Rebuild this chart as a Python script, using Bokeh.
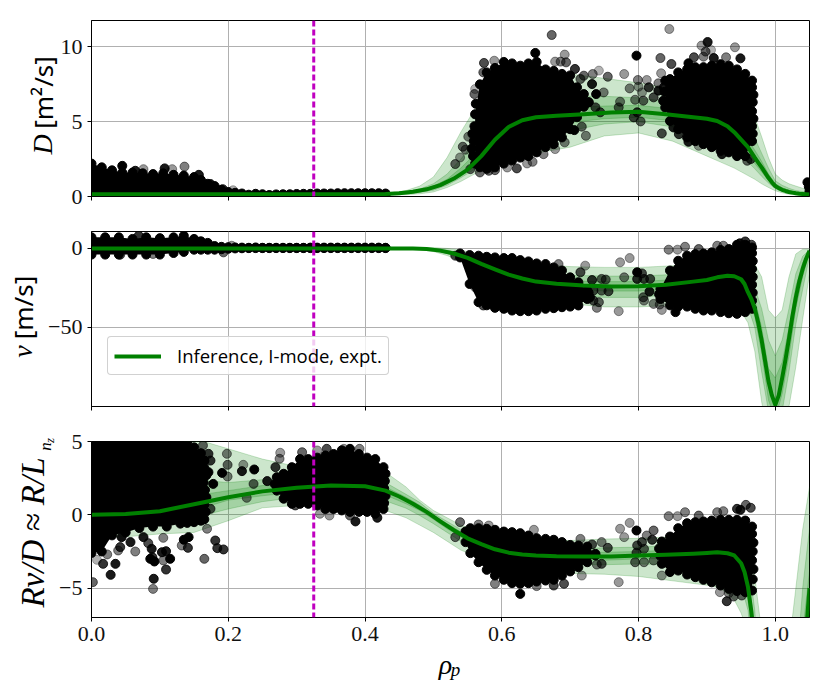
from bokeh.embed import file_html
from bokeh.layouts import column, row
from bokeh.models import (ColumnDataSource, FixedTicker, Label, Legend, LegendItem,
                          Range1d, Span)
from bokeh.plotting import figure
from bokeh.resources import INLINE

# shared radial grid of the inference bands
rho = [0, .05, .1, .15, .2, .25, .3, .35, .4, .43, .46, .48, .5, .52, .54, .56, .58, .6, .62,
       .65, .7, .75, .8, .85, .9, .92, .94, .95, .96, .97, .98, .99, 1.0, 1.01, 1.02, 1.03, 1.04, 1.05]
# medians are read more finely where they bend
med_x = [0, .05, .1, .15, .2, .25, .3, .35, .4, .43, .45, .47, .49, .51, .53, .55, .57, .59, .61,
         .63, .65, .68, .72, .76, .8, .84, .88, .9, .915, .93, .94, .95, .955, .96, .965, .97, .975, .98, .985,
         .99, .995, 1.0, 1.005, 1.01, 1.015, 1.02, 1.025, 1.03, 1.035, 1.04, 1.045, 1.05]
rho_sep = 0.325
rho_ticks = [0, .2, .4, .6, .8, 1.0]

# D profile: median and three nested bands
d_med = [.15, .15, .15, .15, .15, .15, .15, .15, .15, .17, .22, .32, .48, .76, 1.2, 1.8, 2.7, 3.8, 4.65,
         5.1, 5.3, 5.4, 5.5, 5.62, 5.67, 5.5, 5.3, 5.2, 5.05, 4.7, 4.3, 3.8, 3.55, 3.3, 2.95, 2.6, 2.27, 1.95, 1.6,
         1.25, .95, .7, .56, .45, .37, .3, .26, .22, .19, .17, .15, .13]
d_hi3 = [.2, .2, .2, .2, .2, .2, .2, .2, .2, .2, .4, .7, 1.3, 2.6, 4.3, 5.8, 6.8, 7.4, 7.7,
         8, 8.2, 7.9, 7.6, 7.2, 6.9, 6.7, 6.4, 6.2, 5.8, 5.3, 4, 2.6, 1.5, 1.1, .85, .7, .55, .45]
d_lo3 = [.1, .1, .1, .1, .1, .1, .1, .1, .1, .1, .12, .18, .3, .6, 1.0, 1.5, 2, 2.3, 2.6,
         2.9, 3.3, 4.05, 4.25, 3.7, 2.7, 2.3, 1.9, 1.65, 1.4, 1.15, .85, .6, .38, .25, .15, .1, .08, .05]
d_hi2 = [.17, .17, .17, .17, .17, .17, .17, .17, .17, .18, .3, .5, .85, 1.5, 2.5, 3.6, 4.7, 5.5, 6,
         6.4, 6.7, 6.7, 6.6, 6.3, 6, 5.8, 5.4, 5, 4.5, 3.9, 2.9, 1.9, 1.05, .75, .55, .4, .33, .25]
d_lo2 = [.12, .12, .12, .12, .12, .12, .12, .12, .12, .14, .18, .27, .42, .75, 1.25, 1.8, 2.6, 3.2, 3.6,
         4, 4.4, 4.85, 5, 4.65, 4.1, 3.7, 3.1, 2.7, 2.3, 1.85, 1.35, .9, .52, .33, .2, .15, .11, .08]
d_hi1 = [.16, .16, .16, .16, .16, .16, .16, .16, .16, .17, .27, .43, .7, 1.15, 1.9, 2.8, 3.9, 4.8, 5.35,
         5.75, 5.95, 6.05, 6.1, 5.85, 5.55, 5.3, 4.75, 4.3, 3.8, 3.1, 2.35, 1.5, .85, .58, .4, .3, .23, .18]
d_lo1 = [.14, .14, .14, .14, .14, .14, .14, .14, .14, .16, .22, .33, .5, .85, 1.35, 2, 2.95, 3.8, 4.4,
         4.75, 4.95, 5.2, 5.3, 5.05, 4.75, 4.4, 3.75, 3.3, 2.8, 2.2, 1.65, 1.05, .6, .38, .25, .18, .13, .1]

# v profile
v_med = [0, 0, 0, 0, 0, 0, 0, 0, 0, 0, 0, -.1, -.4, -1.4, -3.2, -6, -9.8, -13.3, -16.6,
         -19, -21, -22.4, -23.5, -24.1, -24, -23, -21, -20, -18.3, -17.3, -17.6, -19.5, -22.5, -27.7, -32, -38, -47, -58, -71,
         -84, -93, -99, -93, -82, -70, -57, -43, -31, -21, -13, -6.5, -1.5]
v_hi3 = [.5, .5, .5, .5, .5, .5, .5, .5, .5, .5, .5, .5, .5, 0, -1, -3, -5, -7, -8.5,
         -10, -11.5, -12, -12, -11, -9, -7, -5.5, -5, -7, -10, -18, -39, -44, -39, -18, -3.5, -.5, -.3]
v_lo3 = [-.5, -.5, -.5, -.5, -.5, -.5, -.5, -.5, -.5, -.5, -.6, -.7, -2, -4.5, -8, -14, -20, -25, -29,
         -32, -35, -37, -37, -36, -35, -34, -36, -40, -47, -65, -97, -120, -130, -125, -100, -75, -45, -16]
v_hi2 = [.2, .2, .2, .2, .2, .2, .2, .2, .2, .2, .2, .2, 0, -1, -2.8, -5.5, -8, -11, -13,
         -15.5, -17, -17.5, -17.5, -16.5, -14, -12.5, -11.5, -12, -17, -25, -38, -58, -68, -58, -38, -16, -5, -.8]
v_lo2 = [-.2, -.2, -.2, -.2, -.2, -.2, -.2, -.2, -.2, -.2, -.25, -.3, -1.4, -3.3, -6, -10.5, -15, -19.5, -23,
         -26.5, -29, -31, -31, -29, -27, -25.5, -26, -29, -37, -50, -78, -103, -115, -103, -78, -48, -26, -5]
v_hi1 = [.1, .1, .1, .1, .1, .1, .1, .1, .1, .1, .1, .1, -.4, -1.6, -3.6, -6.8, -10, -13, -15.5,
         -18.5, -20.5, -21, -21, -19.8, -17.3, -15.2, -14.8, -16, -23, -32, -50, -76, -82, -72, -50, -24, -9, -1]
v_lo1 = [-.1, -.1, -.1, -.1, -.1, -.1, -.1, -.1, -.1, -.1, -.1, -.1, -1.1, -2.8, -5.3, -9.2, -13, -17, -20.5,
         -23.5, -25.5, -27, -27, -25.2, -22.7, -20.5, -20.5, -22.5, -32, -43, -66, -96, -108, -92, -68, -38, -18, -2.5]

# Rv/D profile
r_med = [0, .05, .25, .72, 1.2, 1.6, 1.85, 2, 1.95, 1.65, 1.25, .75, .2, -.45, -1.05, -1.6, -2, -2.35, -2.58,
         -2.7, -2.77, -2.82, -2.84, -2.84, -2.77, -2.72, -2.65, -2.6, -2.55, -2.62, -2.77, -3.3, -3.9, -4.9, -6.6, -9, -14, -20, -30,
         -40, -50, -60, -55, -50, -40, -30, -25, -20, -16, -12, -8, -5]
r_hi3 = [2, 3, 4.5, 5.2, 4.5, 3.8, 3.3, 3.1, 3.2, 2.9, 1.9, 1.0, .3, -.2, -.7, -1, -1.3, -1.5, -1.6,
         -1.7, -1.75, -1.65, -1.6, -1.5, -1.1, -.7, -.6, -.7, -1.5, -4.2, -8, -25, -40, -30, -9, -5, -1, 1.9]
r_lo3 = [-1.5, -1.5, -1.3, -1.2, -.4, .48, .64, .65, .5, .3, -.2, -.7, -1.2, -1.8, -2.4, -2.8, -3.2, -3.5, -3.7,
         -3.9, -4, -4.05, -4.2, -4.5, -4.8, -5, -5.8, -6.7, -8, -14, -30, -50, -70, -65, -50, -35, -25, -15]
r_hi2 = [1, 1.5, 2, 2.4, 2.2, 2.4, 2.4, 2.5, 2.5, 2.2, 1.4, .85, .1, -.45, -1, -1.4, -1.75, -2, -2.15,
         -2.25, -2.3, -2.25, -2.2, -2.1, -1.85, -1.6, -1.6, -1.9, -3, -6.5, -13, -30, -50, -40, -20, -11, -5, -.9]
r_lo2 = [-1, -.9, -.5, -.2, .4, .9, 1.2, 1.4, 1.25, .95, .45, -.05, -.6, -1.2, -1.8, -2.2, -2.6, -2.95, -3.15,
         -3.3, -3.4, -3.4, -3.35, -3.4, -3.5, -3.6, -4, -4.8, -6.5, -11, -25, -45, -65, -58, -40, -28, -18, -9]
r_hi1 = [.5, .6, .9, 1.3, 1.65, 2, 2.15, 2.25, 2.2, 1.9, 1.2, .65, 0, -.6, -1.15, -1.6, -2, -2.25, -2.4,
         -2.5, -2.55, -2.55, -2.5, -2.4, -2.25, -2.15, -2.2, -2.6, -4, -7.8, -16, -35, -55, -45, -25, -15, -8, -3.8]
r_lo1 = [-.5, -.4, -.1, .3, 1, 1.3, 1.55, 1.7, 1.65, 1.35, .75, .3, -.3, -.95, -1.5, -2, -2.4, -2.7, -2.9,
         -3, -3.1, -3.1, -3, -3, -3, -3, -3.3, -4, -5.8, -10, -22, -42, -62, -55, -35, -24, -15, -7]

# dense sample clouds, given as the range the samples cover at each rho
d_cloud1_x = [0, .015, .03, .045, .06, .075, .09, .105, .12, .135, .15, .16, .17, .18, .19, .2, .21, .22, .23, .24, .25, .26, .27, .28,
              .29, .3, .31, .32, .33, .34, .35, .36, .37, .38, .39, .4, .41, .42, .43]
d_cloud1_hi = [2.2, 1.95, 1.75, 1.6, 1.6, 1.55, 1.5, 1.55, 1.45, 1.4, 1.3, 1.1, .85, .7, .45, .3, .25, .2, .12, .18, .15, .1, .14, .15,
               .15, .17, .18, .18, .2, .2, .2, .22, .22, .22, .22, .22, .22, .22, .2]
d_cloud1_lo = [.05, .05, .05, .05, .05, .05, .05, .05, .05, .05, .05, .05, .05, .05, .05, .05, .05, .05, .05, .05, .05, .05, .05, .05,
               .05, .05, .05, .05, .05, .05, .05, .05, .05, .05, .05, .05, .05, .05, .05]
d_cloud2_x = [.561, .568, .578, .59, .603, .615, .627, .639, .651, .664, .676, .688, .7, .71, .72, .727]
d_cloud2_hi = [5.5, 7.5, 8.3, 8.6, 9.0, 8.9, 8.75, 8.9, 9.0, 8.5, 8.4, 8.2, 8.1, 7.3, 6.85, 6.3]
d_cloud2_lo = [2.2, 1.95, 1.85, 1.95, 2.2, 2.4, 2.6, 2.7, 2.95, 3.3, 3.5, 3.95, 4.5, 5.3, 6.0, 6.3]
d_cloud3_x = [.839, .846, .858, .871, .883, .895, .907, .92, .932, .944, .956, .966]
d_cloud3_hi = [7.75, 7.85, 8.3, 8.5, 8.65, 8.65, 8.75, 8.85, 8.75, 8.5, 8.2, 7.75]
d_cloud3_lo = [5.95, 5.05, 4.5, 3.95, 3.7, 3.5, 3.3, 3.05, 2.95, 2.7, 2.7, 3.7]
d_edge_x = [.558, .556, .559, .557, .56, .562, .836, .838, .967, .966, .968, .966, .967, .968, .966]
d_edge_y = [2.7, 3.2, 3.7, 4.2, 4.7, 6.2, 6.4, 7.0, 4.2, 4.7, 5.2, 5.7, 6.3, 6.8, 7.3]

v_cloud1_x = [0, .02, .04, .06, .08, .1, .12, .135, .15, .16, .17, .18, .19, .2, .21, .22, .23, .24, .25, .26, .27, .28,
              .29, .3, .31, .32, .33, .34, .35, .36, .37, .38, .39, .4, .41, .42, .43]
v_cloud1_hi = [7, 7, 7, 6, 7, 6.5, 7, 8, 6, 4.5, 3.5, 1.5, 1, .8, .6, .5, .4, .6, .4, .4, .4, .4,
               .4, .4, .4, .5, .5, .5, .5, .5, .5, .5, .5, .5, .5, .5, .4]
v_cloud1_lo = [-3.9, -3.9, -3.9, -3.9, -3.9, -3.9, -2.9, -2.2, -.8, -.8, -.8, -.8, -.5, -.2, 0, .1, .2, .2, .2, .2, .2, .2,
               .2, .2, .2, .2, .2, .2, .2, .2, .2, .2, .2, .2, .2, .2, .2]
v_cloud2_x = [.539, .553, .566, .578, .59, .603, .615, .627, .639, .651, .664, .676, .688, .7, .712, .725]
v_cloud2_hi = [-3.2, -4.2, -4.6, -5.3, -5.7, -6.1, -6.1, -7.4, -8.2, -9.5, -9.9, -12, -14, -18.3, -21.4, -26.7]
v_cloud2_lo = [-5.7, -22.5, -34, -36, -37.6, -38.2, -39.3, -39.7, -39.7, -39.3, -38.2, -37.8, -37.2, -36.8, -36.1, -32]
v_cloud3_x = [.832, .846, .858, .871, .883, .895, .907, .92, .932, .944, .956, .966]
v_cloud3_hi = [-25.6, -14, -7.8, -4.6, -3.6, -3.2, -2.5, -1, -.4, 2.3, 2.3, .6]
v_cloud3_lo = [-32, -36, -36.8, -36.8, -38.2, -39.3, -39.3, -40.3, -41, -41.4, -40.3, -38.2]
v_edge_x = [.966, .967, .966, .967, .966, .967, .966, .83, .727, .729]
v_edge_y = [-33, -28, -23, -18, -13, -8, -3, -29, -28, -31]

r_cloud1_x = [0, .015, .03, .05, .07, .09, .11, .13, .14, .15, .16, .165]
r_cloud1_hi = [5.5, 5.5, 5.5, 5.5, 5.5, 5.5, 5.5, 5.5, 5.0, 4.6, 4.2, 3.7]
r_cloud1_lo = [-2.6, -2.5, -1.4, -1.2, -.9, -.8, -.8, -.6, -.55, -.5, -.4, -.3]
r_cloud2_x = [.271, .281, .293, .305, .317, .33, .342, .354, .366, .378, .391, .403, .415, .427]
r_cloud2_hi = [2.57, 2.8, 3.25, 3.8, 3.8, 3.9, 4.05, 4.15, 4.4, 4.5, 4.15, 3.9, 3.8, 3.25]
r_cloud2_lo = [1.65, 1.1, .75, .75, .75, .64, .4, .4, .3, .2, .2, .2, .07, .4]
r_cloud3_x = [.547, .554, .566, .578, .59, .603, .615, .627, .639, .651, .664, .676, .688, .7, .712, .725, .737]
r_cloud3_hi = [-1.14, -.91, -.91, -.95, -1.02, -1.14, -1.18, -1.25, -1.41, -1.59, -1.64, -1.7, -1.86, -2.05, -2.09, -2.16, -2.66]
r_cloud3_lo = [-1.86, -2.61, -3.23, -3.75, -4.14, -4.43, -4.66, -4.7, -4.66, -4.55, -4.48, -4.43, -4.14, -3.86, -3.57, -3.23, -2.77]
r_cloud4_x = [.834, .846, .858, .871, .883, .895, .907, .92, .932, .944, .956, .966]
r_cloud4_hi = [-1.82, -1.48, -.91, -.57, -.5, -.45, -.39, -.34, -.34, -.34, -.39, -.8]
r_cloud4_lo = [-3.34, -3.9, -3.8, -4.07, -4.25, -4.43, -4.6, -4.82, -5.05, -5.2, -5.27, -5.16]
r_edge_x = [.165, .168, .164, .166, .168, .165, .167, .268, .428, .43, .428, .429, .43, .83, .832, .966, .968, .967, .966, .968, .967]
r_edge_y = [3.2, 2.7, 2.2, 1.7, 1.2, .7, .2, 2.1, .8, 1.3, 1.8, 2.3, 2.8, -2.3, -2.8, -1.3, -1.9, -2.5, -3.1, -3.7, -4.4]

# single samples that stand out of the clouds
d_pts_x = [.673, .845, .901, .892, .898, .906, .941, .797, .832, .848, .692, .678, .686, .694, .707, .742, .733, .72, .755, .779,
           .833, .799, .812, .829, .787, .8, .815, .715, .732, .749, .738, .805, .773, .795, .807, .822, .829, .837, .725, .737,
           .771, .744, .798, .793, .803, .706, .717, .723, .834, .551, .543, .547, .539, .532, .554, .568, .637, .645, .622, .581,
           .59, .608, .678, .661, .692, .888, .907, .922, .959, .964, .873, .859, .851, .561, .56, .573, .574, .589, .649, .873,
           .881, .91, .928, .949, .895, .045, .064, .107, .136, .157, .174, .118, .076, .207, .192, 1.047, 1.049, 1.05]
d_pts_y = [10.8, 11.2, 10.33, 10.09, 9.69, 9.8, 9.98, 9.42, 9.26, 8.86, 9.49, 9.02, 9.02, 8.97, 8.53, 8.42, 8.19, 8.08, 8.01, 8.19,
           8.24, 7.79, 7.79, 7.57, 7.23, 7.34, 7.3, 7.86, 7.52, 6.96, 6.85, 6.96, 6.34, 6.47, 6.41, 6.63, 7.08, 7.3, 6.29, 5.96,
           5.96, 5.63, 5.63, 5.29, 5.02, 4.44, 4.67, 4.06, 4.22, 4.0, 3.33, 3.13, 2.61, 2.17, 1.83, 1.61, 2.21, 2.32, 1.88, 1.72,
           1.76, 1.94, 3.17, 2.83, 3.62, 3.39, 3.35, 2.83, 2.39, 2.5, 3.66, 4.17, 4.62, 7.19, 6.85, 8.3, 8.93, 9.08, 9.6, 8.91,
           9.31, 9.26, 9.31, 9.24, 9.35, 2.05, 1.72, 1.88, 2.0, 1.45, .83, 1.83, 1.83, .42, .49, .95, .65, .35]
d_pts_a = [.6, .4, .9, .4, .6, .3, .4, 1, .6, .7, .4, .4, .5, .6, .8, .3, .5, .6, .6, .4,
           .4, .5, .4, .5, .5, .4, .8, .6, .9, .5, 1, .4, .5, .5, .6, .7, .9, .9, .8, .7,
           .6, .7, .8, .7, .6, 1, .6, .5, .7, .5, .6, .5, .4, .6, .6, .6, .4, .5, .7, .6,
           .6, .4, .4, .5, .5, .4, .4, .9, .6, .7, .9, .8, .9, .3, .6, .6, .7, .4, 1, 1,
           .7, .9, .5, .9, .5, 1, .9, .9, .5, .9, .9, .4, .4, .3, .8, 1, 1, 1]

v_pts_x = [.722, .773, .787, .798, .805, .844, .857, .868, .888, .915, .924, .948, .956, .965, .732, .746, .752, .779, .798, .808,
           .817, .756, .746, .734, .816, .807, .808, .822, .831, .834, .854, .771, .739, .734, .742, .715, .683, .561, .573, .532,
           .042, .09, .069, .193, .205]
v_pts_y = [-10.9, -8.8, -6.1, -15.1, -15.8, -.8, -.8, 1.05, -.4, 1.7, 1.7, 3.2, 4.4, 2.3, -20, -19.3, -19.7, -18.3, -19.3, -19.3,
           -19.3, -27.1, -26.7, -26.7, -27.3, -30.9, -33, -35.1, -35.5, -38.9, -40.3, -39.7, -37.6, -33, -34, -15.1, -9.9, -24.6, -36.1, -4.6,
           -4, -3.5, 8, -2.5, 1.7]
v_pts_a = [.4, .4, .4, 1, .7, .5, .4, .5, .6, .5, .5, .9, .8, .7, .8, .6, .6, .5, .8, .7,
           .7, .7, .6, .7, .9, .6, .5, .5, .5, .4, 1, .4, .5, .7, .6, .7, .5, .4, .7, .7,
           .6, .5, .8, .6, .4]

r_pts_x = [.002, .008, .017, .023, .028, .035, .039, .044, .042, .057, .064, .076, .083, .088, .089, .086, .092, .091, .09, .103,
           .109, .105, .115, .109, .105, .132, .141, .135, .142, .165, .181, .184, .193, .174, .169, .198, .199, .199, .191, .22,
           .222, .238, .257, .237, .227, .276, .275, .269, .178, .171, .174, .171, .163, .165, .308, .344, .369, .392, .33, .386,
           .418, .348, .334, .298, .378, .539, .532, .566, .581, .647, .627, .691, .676, .59, .651, .717, .715, .732, .746, .755,
           .779, .773, .787, .797, .771, .746, .739, .795, .808, .822, .834, .798, .808, .797, .805, .82, .812, .822, .844, .857,
           .868, .888, .915, .924, .944, .957, .964, .949, .929, .919, .932, .939, .951]
r_pts_y = [-4.59, -3.07, -3.34, -2.7, -4.09, -3.34, -2.43, -1.52, -2.2, -1.86, -2.5, -1.52, -1.93, -2.32, -2.89, -3, -3.18, -4.36, -5.05, -2.55,
           -2.48, -3.11, -3, -3.73, -1.57, -2.09, -2.25, -1.7, -1.52, -3, -1.75, -2.27, -2.36, .41, -.95, 4.16, 3.41, 2.61, 2.86, 2.98,
           3.41, 3.09, 2.3, 2.11, 1.16, 4.23, 3.82, 3.25, 2.11, 2.91, 3.7, 4.16, 4.73, 3.66, 4.27, 4.5, 4.5, 4.5, 4.39, -.45,
           -.2, -.05, .07, .64, -.05, -.5, -1.52, -.66, -.73, -1.02, -5.39, -4.7, -4.82, -4.7, -4.86, -4.14, -1.64, -2.02, -1.86, -2.25,
           -1.52, -.95, -.55, -1.07, -4.59, -3.34, -3.39, -3.23, -3.23, -3.11, -4.14, -2.09, -2.32, -2.59, -1.86, -1.7, -1.41, -1.07, -.09, -.09,
           .18, -.05, .18, .25, .41, .68, .48, .34, -5.89, -5.27, -5.34, -5.57, -5.5]
r_pts_a = [.6, .3, .8, .5, .9, .9, .5, .95, .8, .9, .5, .9, .7, .9, .8, 1, 1, .9, .5, .9,
           .9, .5, 1, .8, .5, .5, .8, 1, 1, .6, .8, .8, .8, .7, .5, .5, .6, .5, 1, .9,
           .4, 1, .9, .6, .5, .4, .5, .8, 1, 1, .8, .8, .6, .7, .6, .7, .4, .5, .4, .9,
           .9, .4, .4, .7, .6, .6, .6, .5, .4, .4, 1, .7, .7, .5, .5, .4, .5, .7, .5, .7,
           .4, .4, .4, 1, .4, .7, .5, .6, .5, .5, .4, .7, .6, .7, .7, .8, .5, .6, .5, .4,
           .5, .6, .5, .5, .8, .6, .7, .9, .8, .4, .5, .6, .6]

green = "#008000"
magenta = "#c000c0"
serif = "Liberation Serif"
page_w, page_h = 823, 681


def make_panel(height, top, bottom, y_range, y_ticks, y_names, bands, med, clouds, edge, pts, show_x=False):
    p = figure(width=page_w, height=height, x_range=Range1d(0, 1.05), y_range=Range1d(*y_range),
               output_backend="svg", toolbar_location=None, tools="",
               min_border_left=91, min_border_right=14, min_border_top=top, min_border_bottom=bottom)
    p.outline_line_color = "black"
    p.outline_line_alpha = 1
    p.grid.grid_line_color = "#b0b0b0"
    p.grid.grid_line_width = 1

    p.xaxis.ticker = FixedTicker(ticks=rho_ticks)
    p.yaxis.ticker = FixedTicker(ticks=y_ticks)
    p.yaxis.major_label_overrides = y_names
    if show_x:
        p.xaxis.major_label_overrides = {0: "0.0", .2: "0.2", .4: "0.4", .6: "0.6", .8: "0.8", 1.0: "1.0"}
    else:
        p.xaxis.major_label_overrides = {t: "" for t in rho_ticks}
    for ax in (p.xaxis, p.yaxis):
        ax.major_tick_in = 0
        ax.major_tick_out = 4
        ax.minor_tick_line_color = None
        ax.axis_line_color = "black"
        ax.major_label_text_font = serif
        ax.major_label_text_font_size = "22px"
        ax.major_label_text_color = "#111111"
        ax.major_label_standoff = 5

    for lo, hi in bands:
        p.varea(rho, lo, hi, fill_color=green, fill_alpha=0.2)
        p.line(rho, lo, color=green, line_alpha=0.2, line_width=1)
        p.line(rho, hi, color=green, line_alpha=0.2, line_width=1)

    for cx, chi, clo in clouds:
        p.varea(cx, clo, chi, fill_color="black")
        p.scatter(cx, chi, size=9, color="black")
        p.scatter(cx, clo, size=9, color="black")
    p.scatter(edge[0], edge[1], size=9, color="black")
    src = ColumnDataSource(dict(x=pts[0], y=pts[1], a=pts[2]))
    p.scatter("x", "y", source=src, size=9, color="black", alpha="a")

    med_line = p.line(med_x, med, color=green, line_width=4, line_join="round")
    p.add_layout(Span(location=rho_sep, dimension="height", line_color=magenta, line_width=3, line_dash="6 3"))
    return p, med_line


p1, _ = make_panel(213, 20, 17, (0, 11.77), [0, 5, 10], {0: "0", 5: "5", 10: "10"},
                   [(d_lo3, d_hi3), (d_lo2, d_hi2), (d_lo1, d_hi1)], d_med,
                   [(d_cloud1_x, d_cloud1_hi, d_cloud1_lo), (d_cloud2_x, d_cloud2_hi, d_cloud2_lo),
                    (d_cloud3_x, d_cloud3_hi, d_cloud3_lo)],
                   (d_edge_x, d_edge_y), (d_pts_x, d_pts_y, d_pts_a))

p2, med2 = make_panel(210, 18, 17, (-100, 10.7), [-50, 0], {-50: "−50", 0: "0"},
                      [(v_lo3, v_hi3), (v_lo2, v_hi2), (v_lo1, v_hi1)], v_med,
                      [(v_cloud1_x, v_cloud1_hi, v_cloud1_lo), (v_cloud2_x, v_cloud2_hi, v_cloud2_lo),
                       (v_cloud3_x, v_cloud3_hi, v_cloud3_lo)],
                      (v_edge_x, v_edge_y), (v_pts_x, v_pts_y, v_pts_a))

legend = Legend(items=[LegendItem(label="Inference, I-mode, expt.", renderers=[med2])],
                location=(16, 31), orientation="vertical", level="overlay",
                label_text_font="Open Sans", label_text_font_size="18.5px", label_text_color="black", label_standoff=16,
                glyph_width=47, glyph_height=20, padding=6, margin=0, spacing=0, border_radius=4,
                border_line_color="#cccccc", border_line_alpha=0.9, background_fill_alpha=0.8)
p2.add_layout(legend)

p3, _ = make_panel(258, 18, 64, (-7, 5), [-5, 0, 5], {-5: "−5", 0: "0", 5: "5"},
                   [(r_lo3, r_hi3), (r_lo2, r_hi2), (r_lo1, r_hi1)], r_med,
                   [(r_cloud1_x, r_cloud1_hi, r_cloud1_lo), (r_cloud2_x, r_cloud2_hi, r_cloud2_lo),
                    (r_cloud3_x, r_cloud3_hi, r_cloud3_lo), (r_cloud4_x, r_cloud4_hi, r_cloud4_lo)],
                   (r_edge_x, r_edge_y), (r_pts_x, r_pts_y, r_pts_a), show_x=True)

# axis titles mix fonts, and a Label is clipped to its frame, so they sit on a
# see-through figure laid over the whole page
overlay = figure(width=page_w, height=page_h, x_range=Range1d(0, page_w), y_range=Range1d(0, page_h),
                 output_backend="svg", toolbar_location=None, tools="", x_axis_location=None, y_axis_location=None,
                 min_border=0, margin=(0, 0, 0, -page_w),
                 background_fill_color=None, border_fill_color=None, outline_line_color=None)
overlay.grid.visible = False


def add_text(text, px, py, size, font=serif, style="normal", angle=90):
    overlay.add_layout(Label(x=px, y=page_h - py, x_units="screen", y_units="screen", text=text, text_font=font,
                             text_font_size=f"{size}px", text_font_style=style, text_color="black",
                             text_align="center", text_baseline="middle", angle=angle, angle_units="deg"))


add_text("D", 42, 144, 28, style="italic")
add_text("[m²/s]", 42, 92, 26, font="Noto Sans")
add_text("v", 22, 351, 28, style="italic")
add_text("[m/s]", 22, 307, 26, font="Noto Sans")
add_text("Rv/D ≈ R/L", 32, 532, 33, style="italic")
add_text("n", 45, 446, 17, style="italic")
add_text("z", 49, 440, 13, style="italic")
add_text("ρ", 445, 664, 28, style="italic", angle=0)
add_text("p", 455, 669, 19, style="italic", angle=0)

panels = column(p1, p2, p3, spacing=0)
page = row(panels, overlay, spacing=0)
open("out.html", "w").write(file_html(page, INLINE))
